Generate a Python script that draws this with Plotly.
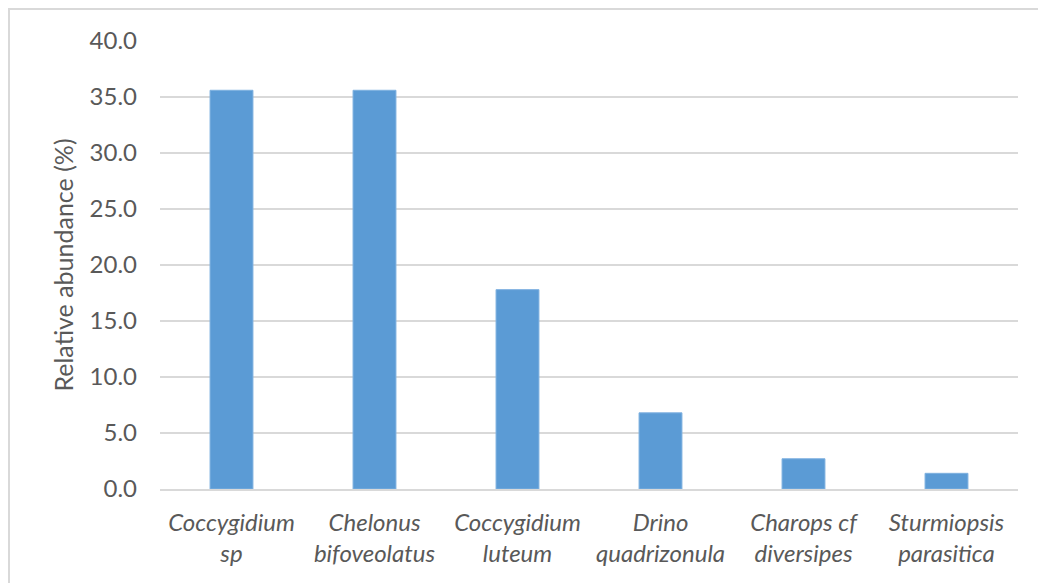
import plotly.graph_objects as go

# Parasitoid species and their relative abundance (%)
species = [
    "Coccygidium<br>sp",
    "Chelonus<br>bifoveolatus",
    "Coccygidium<br>luteum",
    "Drino<br>quadrizonula",
    "Charops cf<br>diversipes",
    "Sturmiopsis<br>parasitica",
]
abundance = [35.6, 35.6, 17.8, 6.8, 2.7, 1.4]
y_ticks = [0, 5, 10, 15, 20, 25, 30, 35, 40]
y_tick_labels = [f"{v:.1f}" for v in y_ticks]

text_color = "#595959"
grid_color = "#d9d9d9"
font_family = "Lato, 'Open Sans', sans-serif"

fig = go.Figure(
    go.Bar(
        x=species,
        y=abundance,
        width=0.3,
        marker=dict(color="#5b9bd5", line=dict(color="#7fb1e0", width=1)),
    )
)

fig.update_layout(
    width=1038,
    height=583,
    margin=dict(l=160, r=20, t=41, b=94),
    paper_bgcolor="white",
    plot_bgcolor="white",
    showlegend=False,
    font=dict(family=font_family, color=text_color, size=24),
    xaxis=dict(
        showgrid=False,
        showline=True,
        linecolor=grid_color,
        linewidth=2,
        ticks="",
        ticklabelstandoff=11,
        tickfont=dict(size=24, color=text_color, style="italic"),
    ),
    yaxis=dict(
        range=[0, 40],
        tickvals=y_ticks,
        ticktext=y_tick_labels,
        showgrid=True,
        gridcolor=grid_color,
        gridwidth=1.5,
        zeroline=False,
        showline=False,
        ticks="",
        ticklabelstandoff=22,
        tickfont=dict(size=24, color=text_color),
        title=dict(text="Relative abundance (%)", font=dict(size=25, color=text_color), standoff=8),
    ),
    shapes=[
        dict(
            type="rect",
            xref="paper",
            yref="paper",
            x0=-0.176,
            x1=1.2,
            y0=-0.5,
            y1=1.0714,
            line=dict(color=grid_color, width=2),
            fillcolor="rgba(0,0,0,0)",
            layer="below",
        )
    ],
)

fig.write_html("out.html")
